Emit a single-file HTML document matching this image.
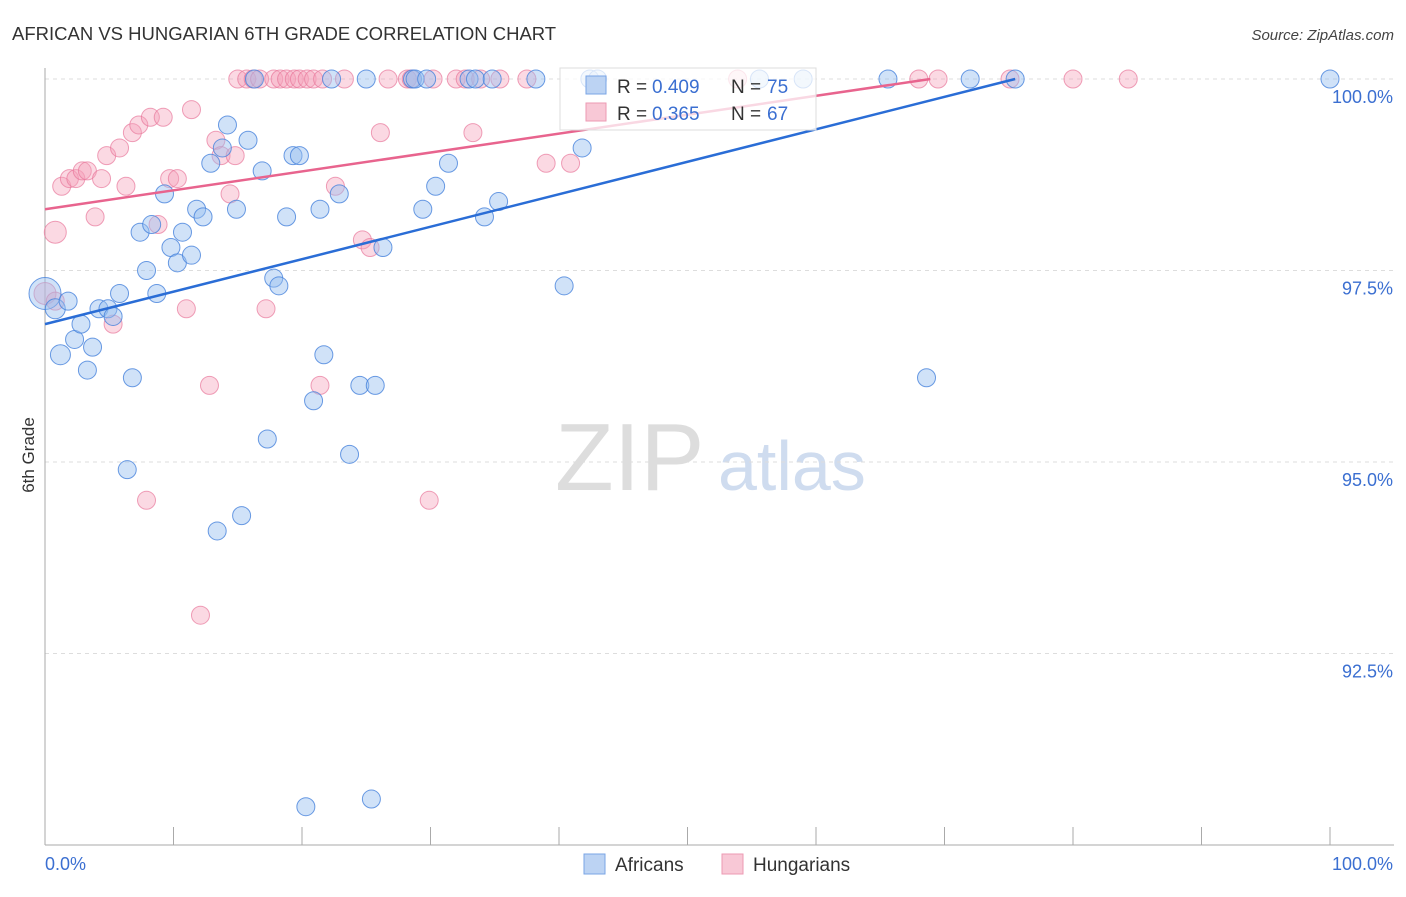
<!DOCTYPE html>
<html><head><meta charset="utf-8"><style>
body{margin:0;background:#fff;font-family:"Liberation Sans",sans-serif;}
svg text{font-family:"Liberation Sans",sans-serif;}
</style></head><body>
<svg id="chart" width="1406" height="892" xmlns="http://www.w3.org/2000/svg">
<text x="12" y="40" font-size="18.5" fill="#333">AFRICAN VS HUNGARIAN 6TH GRADE CORRELATION CHART</text>
<text x="1394" y="40" font-size="15" fill="#444" text-anchor="end" font-style="italic">Source: ZipAtlas.com</text>
<text transform="translate(34,455) rotate(-90)" font-size="17" fill="#333" text-anchor="middle">6th Grade</text>
<text x="555" y="490" font-size="96" fill="#ddd" font-family="Liberation Serif">ZIP</text>
<text x="718" y="490" font-size="70" fill="#cfdcef">atlas</text>
<g id="grid"></g><g id="axes"></g><g id="pts"></g><g id="lines"></g>
<g>
<rect x="560" y="68" width="256" height="62" fill="rgba(255,255,255,0.75)" stroke="#ddd"/>
<rect x="586" y="76" width="20" height="18" fill="#bcd3f3" stroke="#7aa5e6"/>
<text x="617" y="93" font-size="19" fill="#333">R =</text>
<text x="652" y="93" font-size="19" fill="#3b6fd1">0.409</text>
<text x="731" y="93" font-size="19" fill="#333">N =</text>
<text x="767" y="93" font-size="19" fill="#3b6fd1">75</text>
<rect x="586" y="103" width="20" height="18" fill="#f8c8d6" stroke="#ec9ab3"/>
<text x="617" y="120" font-size="19" fill="#333">R =</text>
<text x="652" y="120" font-size="19" fill="#3b6fd1">0.365</text>
<text x="731" y="120" font-size="19" fill="#333">N =</text>
<text x="767" y="120" font-size="19" fill="#3b6fd1">67</text>
</g>
<g>
<rect x="584" y="854" width="21" height="20" fill="#bcd3f3" stroke="#7aa5e6"/>
<text x="615" y="871" font-size="19" fill="#333">Africans</text>
<rect x="722" y="854" width="21" height="20" fill="#f8c8d6" stroke="#ec9ab3"/>
<text x="753" y="871" font-size="19" fill="#333">Hungarians</text>
</g>
</svg>
<script>
const yTicks=[100,97.5,95,92.5];
const yTickLabels=["100.0%","97.5%","95.0%","92.5%"];
const africanX=[0,0.8,1.8,1.2,2.3,2.8,3.3,3.7,4.2,4.9,5.3,5.8,6.4,6.8,7.4,7.9,8.3,8.7,9.3,9.8,10.3,10.7,11.4,11.8,12.3,12.9,13.8,14.2,14.9,15.8,16.9,17.3,17.8,18.2,18.8,19.3,19.8,20.9,21.4,21.7,22.3,22.9,23.7,24.5,25.0,25.7,26.3,28.6,28.8,29.4,29.7,30.4,31.4,33.0,33.5,34.2,34.8,35.3,38.2,40.4,41.8,42.4,43.0,55.6,59.0,65.6,68.6,72.0,75.5,100,15.3,13.4,20.3,25.4,16.3];
const africanY=[97.2,97.0,97.1,96.4,96.6,96.8,96.2,96.5,97.0,97.0,96.9,97.2,94.9,96.1,98.0,97.5,98.1,97.2,98.5,97.8,97.6,98.0,97.7,98.3,98.2,98.9,99.1,99.4,98.3,99.2,98.8,95.3,97.4,97.3,98.2,99.0,99.0,95.8,98.3,96.4,100,98.5,95.1,96.0,100,96.0,97.8,100,100,98.3,100,98.6,98.9,100,100,98.2,100,98.4,100,97.3,99.1,100,100,100,100,100,96.1,100,100,100,94.3,94.1,90.5,90.6,100];
const africanR=[16,10,9,10,9,9,9,9,9,9,9,9,9,9,9,9,9,9,9,9,9,9,9,9,9,9,9,9,9,9,9,9,9,9,9,9,9,9,9,9,9,9,9,9,9,9,9,9,9,9,9,9,9,9,9,9,9,9,9,9,9,9,9,9,9,9,9,9,9,9,9,9,9,9,9];
const hungX=[0.8,0,0.8,1.3,1.9,2.4,2.9,3.3,3.9,4.4,4.8,5.3,5.8,6.3,6.8,7.3,7.9,8.2,8.8,9.2,9.7,10.3,11.0,11.4,12.1,12.8,13.3,13.7,14.4,14.8,15.0,15.7,16.2,16.7,17.2,17.8,18.3,18.8,19.4,19.8,20.4,20.9,21.4,21.6,22.6,23.3,24.7,25.3,26.1,26.7,28.2,28.5,29.9,30.2,32.0,32.7,33.3,33.9,35.4,37.5,39.0,40.9,53.9,68.0,69.5,75.1,80.0,84.3];
const hungY=[98.0,97.2,97.1,98.6,98.7,98.7,98.8,98.8,98.2,98.7,99.0,96.8,99.1,98.6,99.3,99.4,94.5,99.5,98.1,99.5,98.7,98.7,97.0,99.6,93.0,96.0,99.2,99.0,98.5,99.0,100,100,100,100,97.0,100,100,100,100,100,100,100,96.0,100,98.6,100,97.9,97.8,99.3,100,100,100,94.5,100,100,100,99.3,100,100,100,98.9,98.9,100,100,100,100,100,100];
const blueLine=[[0,96.8],[75.5,100]];
const pinkLine=[[0,98.3],[68.9,100]];
const X=v=>45+v*12.85, Y=v=>79+(100-v)*76.6;
const NS="http://www.w3.org/2000/svg";
function mk(t,a,p){const e=document.createElementNS(NS,t);for(const k in a)e.setAttribute(k,a[k]);p.appendChild(e);return e;}
const grid=document.getElementById('grid'),axes=document.getElementById('axes'),pts=document.getElementById('pts'),lines=document.getElementById('lines');
yTicks.forEach((t,i)=>{
 const g=mk('line',{x1:45,x2:1394,y1:Y(t),y2:Y(t),stroke:'#ddd','stroke-dasharray':'4,4'},grid);
 
 
 const l=mk('text',{x:1393,y:Y(t)+24,'font-size':18,fill:'#3b6fd1','text-anchor':'end'},axes);
 l.textContent=yTickLabels[i];
 
 
});
const ax=mk('line',{x1:45,x2:45,y1:68,y2:845,stroke:'#aaa'},axes);


const bx=mk('line',{x1:45,x2:1394,y1:845,y2:845,stroke:'#aaa'},axes);


for(let i=0;i<=10;i++){const t=mk('line',{x1:X(i*10),x2:X(i*10),y1:827,y2:845,stroke:'#aaa'},axes);
 
 }
[["0.0%",45,'start'],["100.0%",1393,'end']].forEach(a=>{const t=mk('text',{x:a[1],y:870,'font-size':18,fill:'#3b6fd1','text-anchor':a[2]},axes);t.textContent=a[0];
 
 });
hungX.forEach((x,i)=>{const c=mk('circle',{cx:X(x),cy:Y(hungY[i]),r:(i<2?11:9),fill:'rgba(244,160,186,0.4)',stroke:'rgba(232,120,155,0.7)','stroke-width':1},pts);
 
 });
africanX.forEach((x,i)=>{const c=mk('circle',{cx:X(x),cy:Y(africanY[i]),r:africanR[i]||9,fill:'rgba(150,190,240,0.45)',stroke:'rgba(70,130,220,0.8)','stroke-width':1},pts);
 
 });
const bl=mk('line',{x1:X(blueLine[0][0]),y1:Y(blueLine[0][1]),x2:X(blueLine[1][0]),y2:Y(blueLine[1][1]),stroke:'#2a6dd6','stroke-width':2.5},lines);


const pl=mk('line',{x1:X(pinkLine[0][0]),y1:Y(pinkLine[0][1]),x2:X(pinkLine[1][0]),y2:Y(pinkLine[1][1]),stroke:'#e8648e','stroke-width':2.5},lines);


</script>
</body></html>
